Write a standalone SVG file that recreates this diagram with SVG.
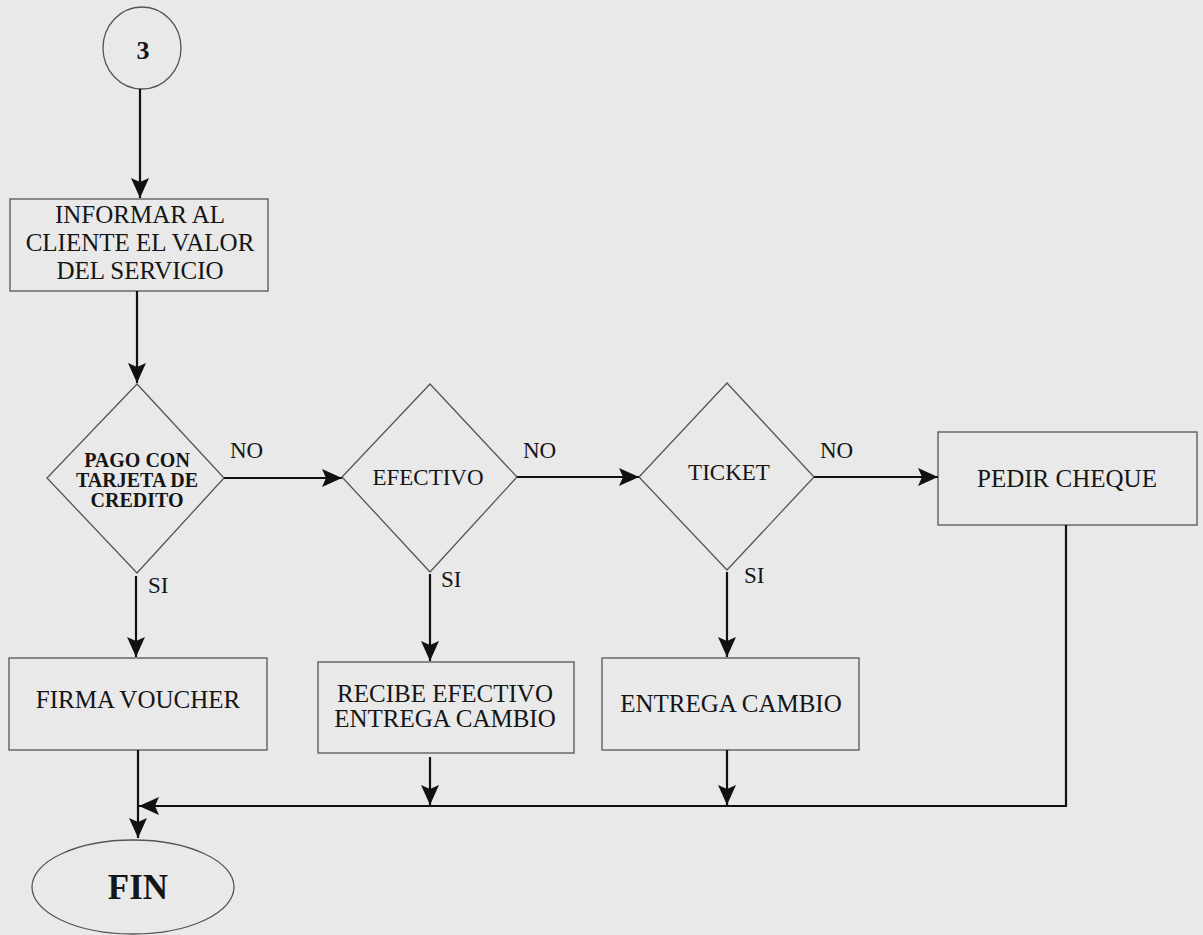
<svg xmlns="http://www.w3.org/2000/svg" width="1203" height="935" viewBox="0 0 1203 935">
<style>
.shape{fill:none;stroke:#555;stroke-width:1.3}
.conn{fill:none;stroke:#111;stroke-width:2.2}
.t{font-family:"Liberation Serif","Times New Roman",serif;font-size:25px;fill:#151515;text-anchor:middle}
.b{font-weight:bold}
.lbl{font-family:"Liberation Serif","Times New Roman",serif;font-size:23px;fill:#151515}
</style>
<defs>
<marker id="arr" markerUnits="userSpaceOnUse" markerWidth="20" markerHeight="18" refX="20" refY="9" orient="auto">
<path d="M0,0 L20,9 L0,18 L4,9 z" fill="#111"/>
</marker>
</defs>
<rect x="0" y="0" width="1203" height="935" fill="#e9e9e9"/>

<g id="start">
<ellipse class="shape" cx="142" cy="48" rx="39" ry="41"/>
<text class="t b" style="font-size:26px" x="143" y="59">3</text>
</g>

<g id="informar">
<rect class="shape" x="10" y="199" width="258" height="92"/>
<text class="t" x="140" y="223">INFORMAR AL</text>
<text class="t" x="140" y="251">CLIENTE EL VALOR</text>
<text class="t" x="140" y="279">DEL SERVICIO</text>
</g>

<g id="d-tarjeta">
<polygon class="shape" points="137,384 224,478 137,573 47,478"/>
<text class="t b" style="font-size:20px" x="137" y="467">PAGO CON</text>
<text class="t b" style="font-size:20px" x="137" y="487">TARJETA DE</text>
<text class="t b" style="font-size:20px" x="137" y="507">CREDITO</text>
</g>

<g id="d-efectivo">
<polygon class="shape" points="430,384 517,477 430,572 342,477"/>
<text class="t" style="font-size:23px" x="428" y="485">EFECTIVO</text>
</g>

<g id="d-ticket">
<polygon class="shape" points="727,383 814,477 727,570 639,477"/>
<text class="t" style="font-size:23px" x="729" y="480">TICKET</text>
</g>

<g id="pedir">
<rect class="shape" x="938" y="432" width="259" height="93"/>
<text class="t" x="1067" y="487">PEDIR CHEQUE</text>
</g>

<g id="firma">
<rect class="shape" x="9" y="658" width="258" height="92"/>
<text class="t" x="138" y="708">FIRMA VOUCHER</text>
</g>

<g id="recibe">
<rect class="shape" x="318" y="662" width="256" height="91"/>
<text class="t" x="445" y="702">RECIBE EFECTIVO</text>
<text class="t" x="445" y="727">ENTREGA CAMBIO</text>
</g>

<g id="entrega">
<rect class="shape" x="602" y="658" width="257" height="92"/>
<text class="t" x="731" y="712">ENTREGA CAMBIO</text>
</g>

<g id="fin">
<ellipse class="shape" cx="133" cy="887" rx="101" ry="47"/>
<text class="t b" style="font-size:35px" x="138" y="899">FIN</text>
</g>

<g id="connectors">
<line class="conn" x1="140" y1="89" x2="140" y2="198" marker-end="url(#arr)"/>
<line class="conn" x1="137" y1="291" x2="137" y2="383" marker-end="url(#arr)"/>
<line class="conn" x1="224" y1="478" x2="342" y2="478" marker-end="url(#arr)"/>
<line class="conn" x1="517" y1="477" x2="639" y2="477" marker-end="url(#arr)"/>
<line class="conn" x1="814" y1="477" x2="938" y2="477" marker-end="url(#arr)"/>
<line class="conn" x1="136" y1="576" x2="136" y2="657" marker-end="url(#arr)"/>
<line class="conn" x1="430" y1="574" x2="430" y2="661" marker-end="url(#arr)"/>
<line class="conn" x1="727" y1="572" x2="727" y2="657" marker-end="url(#arr)"/>
<line class="conn" x1="138" y1="750" x2="138" y2="838" marker-end="url(#arr)"/>
<line class="conn" x1="430" y1="757" x2="430" y2="805" marker-end="url(#arr)"/>
<line class="conn" x1="727" y1="750" x2="727" y2="805" marker-end="url(#arr)"/>
<polyline class="conn" points="1066,525 1066,806 139,806" marker-end="url(#arr)"/>
<text class="lbl" x="230" y="458">NO</text>
<text class="lbl" x="523" y="458">NO</text>
<text class="lbl" x="820" y="458">NO</text>
<text class="lbl" x="148" y="593">SI</text>
<text class="lbl" x="441" y="587">SI</text>
<text class="lbl" x="744" y="583">SI</text>
</g>
</svg>
